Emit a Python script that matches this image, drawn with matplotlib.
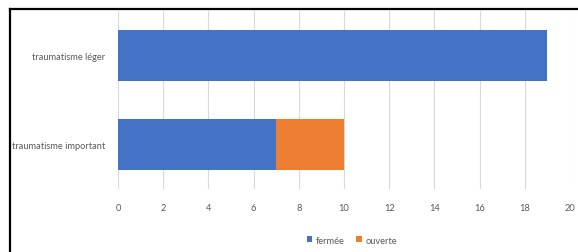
import matplotlib.pyplot as plt
from matplotlib.lines import Line2D

categories = ['traumatisme important', 'traumatisme léger']
fermee = [7, 19]
ouverte = [3, 0]
xticks = [0, 2, 4, 6, 8, 10, 12, 14, 16, 18, 20]

W, H = 578, 253
fig = plt.figure(figsize=(W / 100, H / 100), dpi=100)
ax = fig.add_axes([118 / W, 1 - 190 / H, (570 - 118) / W, (190 - 12) / H])

grey = '#595959'
blue = '#4472c4'
orange = '#ed7d31'
font = 'Lato'

y = range(len(categories))
ax.barh(y, fermee, height=0.58, color=blue, label='fermée', zorder=3)
ax.barh(y, ouverte, left=fermee, height=0.58, color=orange, label='ouverte', zorder=3)

ax.set_xlim(0, 20)
ax.set_ylim(-0.5, 1.5)
ax.set_xticks(xticks)
ax.set_yticks(list(y))
ax.set_yticklabels(categories)
ax.grid(axis='x', color='#d9d9d9', linewidth=0.8, zorder=0)
for s in ax.spines.values():
    s.set_visible(False)
ax.tick_params(length=0, labelsize=6.7, colors=grey, pad=10)
ax.tick_params(axis='y', pad=9)
for lbl in ax.get_xticklabels() + ax.get_yticklabels():
    lbl.set_family(font)

leg = fig.legend(loc='center', bbox_to_anchor=(352 / W, 1 - 241 / H), ncol=2, frameon=False,
                 prop={'family': font, 'size': 6.7}, handlelength=0.6, handleheight=0.6,
                 handletextpad=0.4, columnspacing=1.2)
for t in leg.get_texts():
    t.set_color(grey)

# black frame on left and top
fig.add_artist(Line2D([9.5 / W, 9.5 / W], [0, 1 - 10 / H], color='black', linewidth=1.6,
                      transform=fig.transFigure))
fig.add_artist(Line2D([9.5 / W, 1], [1 - 10 / H, 1 - 10 / H], color='black', linewidth=1.6,
                      transform=fig.transFigure))

fig.savefig('out.png', dpi=100)
